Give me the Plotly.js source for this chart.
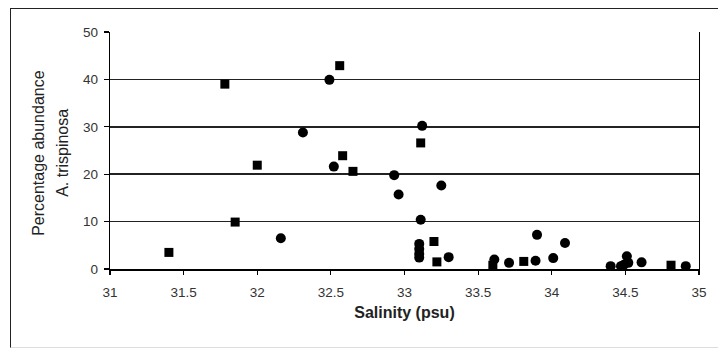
<!DOCTYPE html>
<html>
<head>
<meta charset="utf-8">
<script src="https://cdn.plot.ly/plotly-3.0.1.min.js"></script>
<style>
  html, body { margin: 0; padding: 0; background: #fff; }
  #wrap { position: relative; width: 718px; height: 350px; }
  #chart { position: absolute; left: 0; top: 0; width: 718px; height: 350px; }
  #frame { position: absolute; left: 10px; top: 8px; width: 720px; height: 340px;
           border-left: 1.5px solid #222; border-top: 1.5px solid #222; border-bottom: 1px solid #ddd;
           pointer-events: none; box-sizing: border-box; }
</style>
</head>
<body>
<div id="wrap">
  <div id="chart"></div>
  <div id="frame"></div>
</div>
<script>
// Salinity (psu) vs percentage abundance of A. trispinosa
const salinityA = [31.40, 31.78, 31.85, 32.00, 32.56, 32.58, 32.65, 33.11, 33.20, 33.22, 33.60, 33.81, 34.81];
const abundanceA = [3.5, 39.0, 9.9, 21.9, 42.9, 23.9, 20.6, 26.6, 5.8, 1.5, 0.8, 1.6, 0.8];

const salinityB = [32.16, 32.31, 32.49, 32.52, 32.93, 32.96, 33.12, 33.25, 33.11, 33.10, 33.10, 33.10, 33.10,
                   33.30, 33.61, 33.71, 33.89, 33.90, 34.01, 34.09, 34.40, 34.47, 34.49, 34.51, 34.52, 34.61, 34.91];
const abundanceB = [6.5, 28.8, 39.9, 21.6, 19.8, 15.7, 30.2, 17.6, 10.4, 5.3, 4.2, 3.2, 2.4,
                    2.5, 2.0, 1.3, 1.75, 7.2, 2.3, 5.5, 0.6, 0.6, 0.9, 2.7, 1.3, 1.4, 0.6];

const xTicks = [31, 31.5, 32, 32.5, 33, 33.5, 34, 34.5, 35];
const yTicks = [0, 10, 20, 30, 40, 50];
const yTitleLines = ['Percentage abundance', 'A. trispinosa'];
const xTitle = 'Salinity (psu)';

const traces = [
  { x: salinityA, y: abundanceA, type: 'scatter', mode: 'markers',
    marker: { symbol: 'square', size: 9, color: '#000' }, showlegend: false, hoverinfo: 'x+y' },
  { x: salinityB, y: abundanceB, type: 'scatter', mode: 'markers',
    marker: { symbol: 'circle', size: 10, color: '#000' }, showlegend: false, hoverinfo: 'x+y' }
];

const fam = 'Liberation Sans, Arial, sans-serif';
const tickFont = { family: fam, size: 13.5, color: '#333' };

const plotL = 110, plotR = 699;
const pw = plotR - plotL;

const layout = {
  width: 718, height: 350,
  margin: { l: plotL, r: 718 - plotR, t: 32, b: 81 },
  paper_bgcolor: '#fff', plot_bgcolor: '#fff',
  showlegend: false,
  xaxis: {
    range: [31, 35], tickvals: xTicks, ticktext: xTicks.map(String),
    showgrid: false, zeroline: false,
    showline: true, linecolor: '#000', linewidth: 1.5,
    ticks: 'outside', ticklen: 4, tickwidth: 1.2, tickcolor: '#000',
    tickfont: tickFont, ticklabelstandoff: 6,
    title: { text: '<b>' + xTitle + '</b>', font: { family: fam, size: 16, color: '#222' }, standoff: 8 }
  },
  yaxis: {
    range: [0, 50], tickvals: yTicks, ticktext: yTicks.map(String),
    showgrid: true, gridcolor: '#222', gridwidth: 1.5, zeroline: false,
    showline: true, linecolor: '#000', linewidth: 1.3, mirror: true,
    ticks: 'outside', ticklen: 5, tickwidth: 1.2, tickcolor: '#000',
    tickfont: tickFont, ticklabelstandoff: 3
  },
  annotations: [
    { text: yTitleLines[0], xref: 'paper', yref: 'paper', x: (39 - plotL) / pw, y: 0.49,
      xanchor: 'center', yanchor: 'middle', textangle: -90, showarrow: false,
      font: { family: fam, size: 16, color: '#222' } },
    { text: yTitleLines[1], xref: 'paper', yref: 'paper', x: (63 - plotL) / pw, y: 0.49,
      xanchor: 'center', yanchor: 'middle', textangle: -90, showarrow: false,
      font: { family: fam, size: 16, color: '#222' } }
  ]
};

Plotly.newPlot('chart', traces, layout, { displayModeBar: false, staticPlot: true });
</script>
</body>
</html>
